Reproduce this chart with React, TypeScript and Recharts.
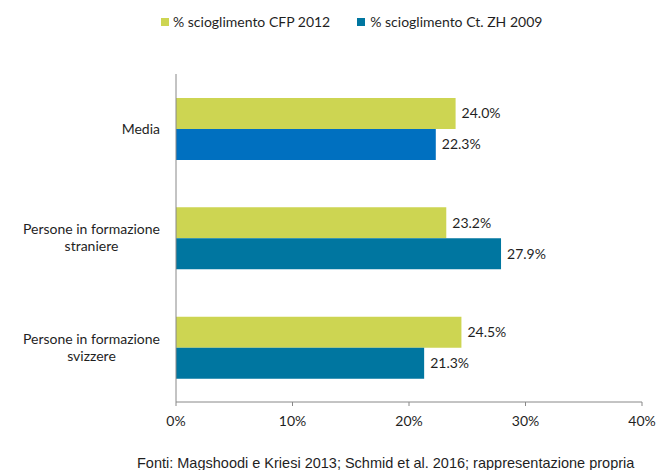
import React from "react";
import { BarChart, Bar, XAxis, YAxis, Cell, LabelList } from "recharts";

// ─── Data ─────────────────────────────────────────────────────────────────────

const categories: string[] = [
  "Media",
  "Persone in formazione\nstraniere",
  "Persone in formazione\nsvizzere",
];
const cfp2012: number[] = [24.0, 23.2, 24.5];
const zh2009: number[] = [22.3, 27.9, 21.3];
const xTicks: number[] = [0, 10, 20, 30, 40];

const seriesNames = ["% scioglimento CFP 2012", "% scioglimento Ct. ZH 2009"];

const GREEN = "#CDD552";
const TEAL = "#0076A0";
const MEDIA_BLUE = "#0070C0";
const FONT = "Lato, 'Open Sans', sans-serif";
const FS = 14;
const TEXT = "#1f1f1f";

const data = categories.map((name, i) => ({
  name,
  cfp: cfp2012[i],
  zh: zh2009[i],
}));

// ─── Helpers ──────────────────────────────────────────────────────────────────

let ctx: CanvasRenderingContext2D | null = null;
const measure = (s: string) => {
  if (!ctx) ctx = document.createElement("canvas").getContext("2d");
  if (!ctx) return s.length * 7;
  ctx.font = `${FS}px ${FONT}`;
  return ctx.measureText(s).width;
};

// multi-line category label: lines centered on each other, block right-aligned
const CategoryTick = (props: any) => {
  const { x, y, payload } = props;
  const lines: string[] = String(payload.value).split("\n");
  const w = Math.max(...lines.map(measure));
  const cx = x - 10 - w / 2;
  const lh = 17;
  const y0 = y - ((lines.length - 1) * lh) / 2;
  return (
    <text textAnchor="middle" fontFamily={FONT} fontSize={FS} fill={TEXT}>
      {lines.map((l, i) => (
        <tspan key={i} x={cx} y={y0 + i * lh} dy="0.35em">
          {l}
        </tspan>
      ))}
    </text>
  );
};

const pct = (v: any) => `${Number(v).toFixed(1)}%`;

// ─── Component ────────────────────────────────────────────────────────────────

export default function App() {
  return (
    <div
      style={{
        position: "absolute",
        left: 0,
        top: 0,
        width: 656,
        height: 470,
        background: "#fff",
        fontFamily: FONT,
      }}
    >
      {/* Legend */}
      <div
        style={{
          position: "absolute",
          top: 13,
          left: 161,
          display: "flex",
          alignItems: "center",
          fontSize: FS,
          color: TEXT,
          whiteSpace: "nowrap",
        }}
      >
        <span style={{ width: 8, height: 8, background: GREEN, marginRight: 4 }} />
        <span style={{ marginRight: 27 }}>{seriesNames[0]}</span>
        <span style={{ width: 8, height: 8, background: TEAL, marginRight: 5 }} />
        <span>{seriesNames[1]}</span>
      </div>

      <BarChart
        width={656}
        height={440}
        data={data}
        layout="vertical"
        margin={{ top: 74, right: 14, left: 0, bottom: 8 }}
        barCategoryGap={23}
        barGap={0}
      >
        <XAxis
          type="number"
          domain={[0, 40]}
          ticks={xTicks}
          interval={0}
          tickFormatter={(v) => `${v}%`}
          axisLine={{ stroke: "#888888" }}
          tickLine={{ stroke: "#888888" }}
          tickSize={4}
          tickMargin={10}
          tick={{ fontSize: FS, fill: TEXT, fontFamily: FONT }}
          height={30}
        />
        <YAxis
          type="category"
          dataKey="name"
          width={176}
          axisLine={{ stroke: "#888888" }}
          tickLine={false}
          tickMargin={0}
          tick={<CategoryTick />}
          interval={0}
        />
        <Bar dataKey="cfp" fill={GREEN} barSize={31} isAnimationActive={false}>
          <LabelList
            dataKey="cfp"
            position="right"
            offset={6}
            formatter={pct}
            style={{ fontSize: FS, fill: TEXT, fontFamily: FONT }}
          />
        </Bar>
        <Bar dataKey="zh" fill={TEAL} barSize={31} isAnimationActive={false}>
          {data.map((d, i) => (
            <Cell key={d.name} fill={i === 0 ? MEDIA_BLUE : TEAL} />
          ))}
          <LabelList
            dataKey="zh"
            position="right"
            offset={6}
            formatter={pct}
            style={{ fontSize: FS, fill: TEXT, fontFamily: FONT }}
          />
        </Bar>
      </BarChart>

      {/* Source */}
      <div
        style={{
          position: "absolute",
          top: 455,
          left: 137,
          fontFamily: "'Liberation Sans', Arial, sans-serif",
          fontSize: 14.5,
          color: TEXT,
          whiteSpace: "nowrap",
          lineHeight: "16px",
        }}
      >
        Fonti: Magshoodi e Kriesi 2013; Schmid et al. 2016; rappresentazione propria
      </div>
    </div>
  );
}
